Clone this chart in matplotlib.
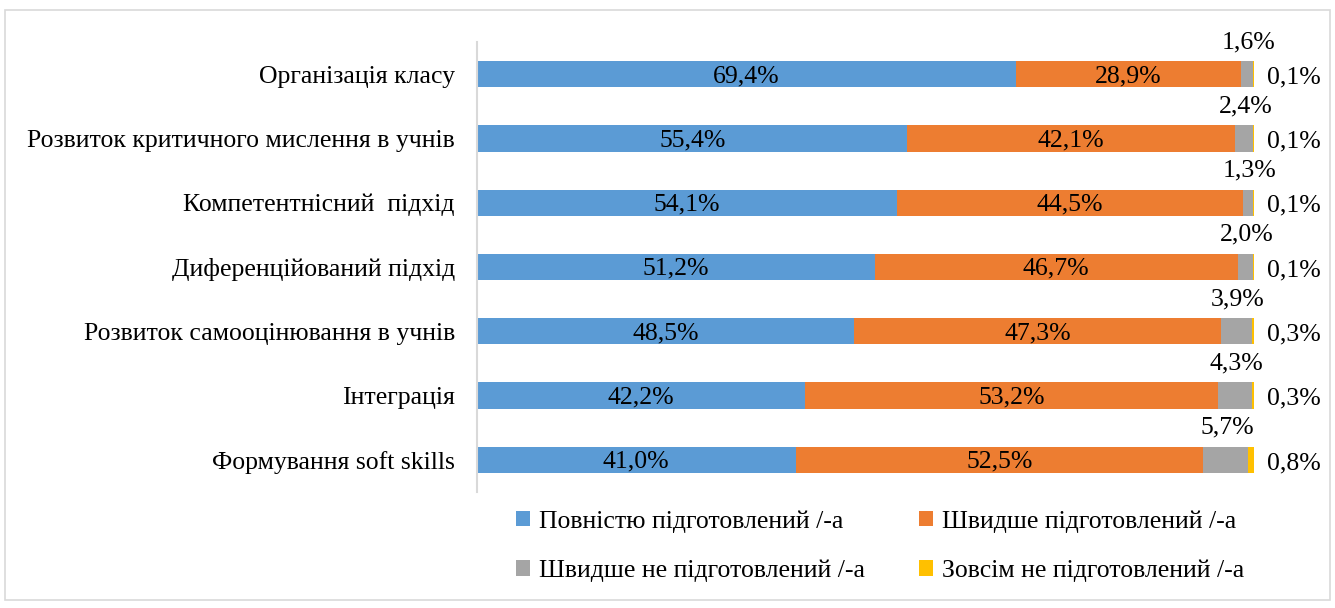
import matplotlib
matplotlib.use("Agg")
import matplotlib.pyplot as plt
from matplotlib.patches import Rectangle
import numpy as np

plt.rcParams['font.family'] = ['Liberation Serif', 'DejaVu Serif']

categories = ["Організація класу",
              "Розвиток критичного мислення в учнів",
              "Компетентнісний  підхід",
              "Диференційований підхід",
              "Розвиток самооцінювання в учнів",
              "Інтеграція",
              "Формування soft skills"]
full = [69.4, 55.4, 54.1, 51.2, 48.5, 42.2, 41.0]
rather = [28.9, 42.1, 44.5, 46.7, 47.3, 53.2, 52.5]
rather_not = [1.6, 2.4, 1.3, 2.0, 3.9, 4.3, 5.7]
not_at_all = [0.1, 0.1, 0.1, 0.1, 0.3, 0.3, 0.8]
series_names = ["Повністю підготовлений /-а", "Швидше підготовлений /-а",
                "Швидше не підготовлений /-а", "Зовсім не підготовлений /-а"]
colors = ["#5B9BD5", "#ED7D31", "#A5A5A5", "#FFC000"]

W, H = 1335, 608
fig = plt.figure(figsize=(W / 100, H / 100), dpi=100)
fig.patches.append(Rectangle((5 / W, 1 - 600 / H), 1325 / W, 590 / H,
                             transform=fig.transFigure, fill=False,
                             edgecolor="#D9D9D9", linewidth=1.2))
ax = fig.add_axes([477 / W, 1 - 492 / H, (1254 - 477) / W, 450 / H])

y = np.arange(len(categories))
data = [full, rather, rather_not, not_at_all]
left = np.zeros(len(categories))
bars = []
for vals, c, name in zip(data, colors, series_names):
    v = np.array(vals)
    b = ax.barh(y, v, left=left, height=0.41, color=c, label=name)
    bars.append((b, v, left.copy()))
    left = left + v

fs = 18.5
def pct(x):
    return f"{x:.1f}%".replace(".", ",")

for i in range(len(categories)):
    for k in (0, 1):
        b, v, l = bars[k]
        ax.text(l[i] + v[i] / 2, y[i] + 0.03, pct(v[i]),
                ha="center", va="center", fontsize=fs, color="black")
    b, v, l = bars[2]
    ax.text(l[i] + v[i] / 2 + 0.2, y[i] - 0.5, pct(v[i]),
            ha="center", va="center", fontsize=fs)
    b, v, l = bars[3]
    ax.text(l[i] + v[i] + 1.7, y[i] + 0.05, pct(v[i]),
            ha="left", va="center", fontsize=fs)

ax.set_xlim(0, 100)
ax.set_ylim(len(categories) - 0.5, -0.5)
ax.set_yticks(y)
ax.set_yticklabels(categories, fontsize=fs)
ax.tick_params(axis="y", length=0, pad=16)
ax.set_xticks([])
for s in ("top", "right", "bottom"):
    ax.spines[s].set_visible(False)
ax.spines["left"].set_color("#D9D9D9")
ax.spines["left"].set_linewidth(1.5)

handles = [b for b, _, _ in bars]
order = [0, 2, 1, 3]
fig.legend([handles[i] for i in order], [series_names[i] for i in order],
           loc="center left", bbox_to_anchor=(516 / W, 1 - 546 / H), ncol=2,
           frameon=False, fontsize=fs, handlelength=0.55, handleheight=0.55,
           handletextpad=0.35, columnspacing=2.1, labelspacing=1.05,
           borderpad=0, borderaxespad=0)

fig.savefig("out.png", dpi=100)
